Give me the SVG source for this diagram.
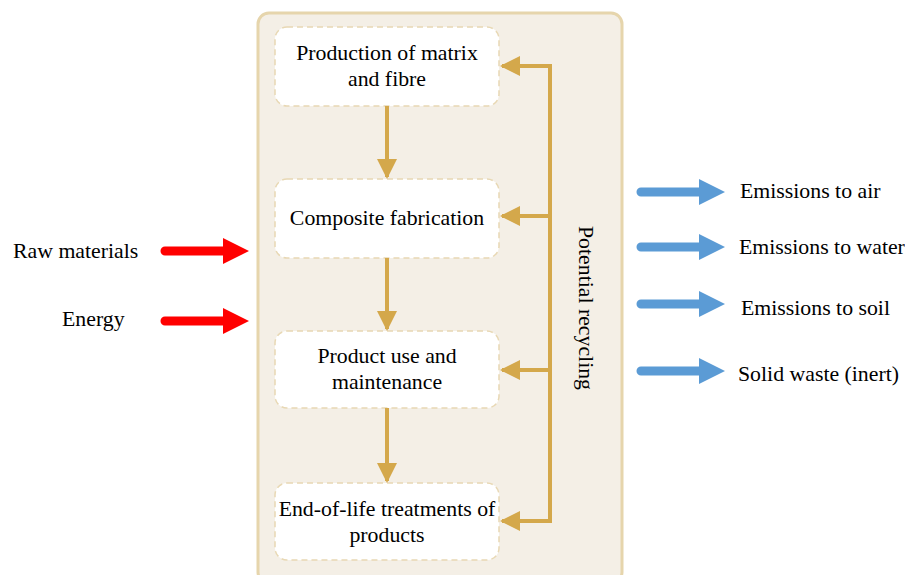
<svg xmlns="http://www.w3.org/2000/svg" width="905" height="575" viewBox="0 0 905 575">
<style>
text{font-family:"Liberation Serif","Times New Roman",serif;font-size:21.8px;fill:#000}
.c{text-anchor:middle}
.box{fill:#fff;stroke:#e8d8b4;stroke-width:1.5;stroke-dasharray:6 4}
.gold{stroke:#d4a84b;stroke-width:4;fill:none}
.red{fill:#ff0000}
.blue{fill:#5b9bd5}
</style>
<defs>
<marker id="ah" markerWidth="5" markerHeight="5" refX="4.5" refY="2.5" orient="auto" markerUnits="strokeWidth" viewBox="0 0 5 5">
<path d="M0,0 L5,2.5 L0,5 Z" fill="#d4a84b"/>
</marker>
<path id="fat" d="M0,-4.5 L58,-4.5 L58,-13 L84,0 L58,13 L58,4.5 L0,4.5 A4.5,4.5 0 0 1 0,-4.5 Z"/>
</defs>
<rect x="258" y="13" width="364" height="570" rx="11" fill="#f4efe6" stroke="#e6d5ac" stroke-width="3"/>
<g id="n1"><rect class="box" x="275" y="27" width="224" height="79" rx="12"/><text class="c" x="387" y="60">Production of matrix</text><text class="c" x="387" y="86">and fibre</text></g>
<g id="n2"><rect class="box" x="275" y="179" width="224" height="79" rx="12"/><text class="c" x="387" y="225">Composite fabrication</text></g>
<g id="n3"><rect class="box" x="275" y="331" width="224" height="77" rx="12"/><text class="c" x="387" y="363">Product use and</text><text class="c" x="387" y="389">maintenance</text></g>
<g id="n4"><rect class="box" x="275" y="483" width="224" height="77" rx="12"/><text class="c" x="387" y="516">End-of-life treatments of</text><text class="c" x="387" y="542">products</text></g>
<g id="connectors">
<line class="gold" x1="387" y1="106" x2="387" y2="177" marker-end="url(#ah)"/>
<line class="gold" x1="387" y1="258" x2="387" y2="329" marker-end="url(#ah)"/>
<line class="gold" x1="387" y1="408" x2="387" y2="481" marker-end="url(#ah)"/>
<polyline class="gold" points="550,216 550,66 502,66" marker-end="url(#ah)"/>
<polyline class="gold" points="550,216 550,521 502,521" marker-end="url(#ah)"/>
<line class="gold" x1="550" y1="216" x2="502" y2="216" marker-end="url(#ah)"/>
<line class="gold" x1="550" y1="370" x2="502" y2="370" marker-end="url(#ah)"/>
</g>
<text class="c" transform="translate(579,308) rotate(90)">Potential recycling</text>
<g id="inputs">
<use href="#fat" class="red" x="165" y="251"/>
<use href="#fat" class="red" x="165" y="321"/>
<text x="13" y="258">Raw materials</text>
<text x="62" y="326">Energy</text>
</g>
<g id="outputs">
<use href="#fat" class="blue" x="641" y="192"/>
<use href="#fat" class="blue" x="641" y="247"/>
<use href="#fat" class="blue" x="641" y="304"/>
<use href="#fat" class="blue" x="641" y="371"/>
<text x="740" y="198">Emissions to air</text>
<text x="739" y="254">Emissions to water</text>
<text x="741" y="315">Emissions to soil</text>
<text x="738" y="381">Solid waste (inert)</text>
</g>
</svg>
